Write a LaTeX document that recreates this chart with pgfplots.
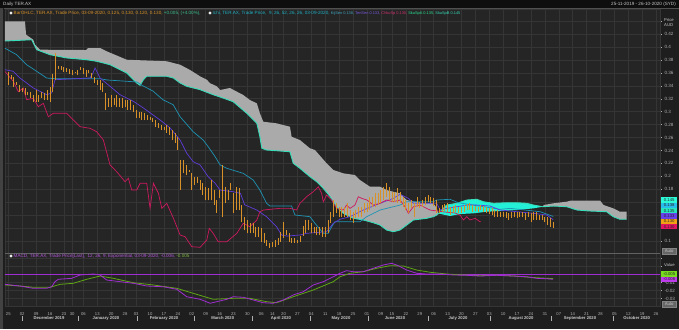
\documentclass[border=0pt]{standalone}
\usepackage{fontspec}
\setmainfont{Liberation Sans}
\setsansfont{Liberation Sans}
\usepackage{pgfplots}
\pgfplotsset{compat=1.18}
\usepackage{pgfplotstable}

\definecolor{bgc}{RGB}{30,30,30}
\definecolor{panel}{RGB}{37,37,37}
\definecolor{gridc}{RGB}{53,53,53}
\definecolor{txt}{RGB}{200,200,200}
\definecolor{txtdim}{RGB}{175,175,175}
\definecolor{ohlc}{RGB}{215,145,40}
\definecolor{kijun}{RGB}{30,148,180}
\definecolor{tenkan}{RGB}{95,60,215}
\definecolor{chikou}{RGB}{205,25,95}
\definecolor{spana}{RGB}{55,220,185}
\definecolor{cloudgray}{RGB}{170,170,170}
\definecolor{cloudcyan}{RGB}{35,240,215}
\definecolor{macdc}{RGB}{160,45,210}
\definecolor{sigc}{RGB}{95,165,20}
\definecolor{legg}{RGB}{60,190,140}
\definecolor{ichic}{RGB}{30,175,195}

\pgfplotstableread{
i h l
0 0.361 0.341
1 0.357 0.350
2 0.354 0.338
3 0.346 0.341
4 0.341 0.330
5 0.337 0.330
6 0.337 0.326
7 0.330 0.326
8 0.330 0.321
9 0.326 0.315
10 0.333 0.315
11 0.326 0.315
12 0.330 0.321
13 0.329 0.318
14 0.333 0.318
15 0.338 0.315
16 0.358 0.330
17 0.391 0.349
18 0.371 0.366
19 0.371 0.364
20 0.369 0.361
21 0.367 0.361
22 0.366 0.358
23 0.364 0.357
24 0.361 0.359
25 0.364 0.357
26 0.369 0.364
27 0.367 0.358
28 0.364 0.354
29 0.364 0.360
30 0.360 0.352
31 0.354 0.344
32 0.349 0.341
33 0.349 0.333
34 0.344 0.330
35 0.329 0.303
36 0.321 0.307
37 0.326 0.307
38 0.321 0.310
39 0.326 0.307
40 0.321 0.307
41 0.321 0.306
42 0.318 0.307
43 0.318 0.303
44 0.318 0.303
45 0.310 0.299
46 0.303 0.290
47 0.299 0.290
48 0.299 0.287
49 0.298 0.287
50 0.295 0.287
51 0.292 0.287
52 0.290 0.284
53 0.287 0.276
54 0.282 0.275
55 0.279 0.272
56 0.276 0.272
57 0.279 0.267
58 0.276 0.264
59 0.272 0.256
60 0.267 0.252
61 0.261 0.241
62 0.225 0.179
63 0.225 0.205
64 0.218 0.202
65 0.210 0.207
66 0.205 0.179
67 0.199 0.187
68 0.199 0.190
69 0.194 0.179
70 0.190 0.171
71 0.184 0.163
72 0.182 0.163
73 0.194 0.163
74 0.179 0.156
75 0.163 0.143
76 0.179 0.167
77 0.218 0.137
78 0.184 0.159
79 0.179 0.163
80 0.190 0.179
81 0.174 0.143
82 0.184 0.148
83 0.182 0.148
84 0.156 0.129
85 0.137 0.117
86 0.133 0.112
87 0.128 0.112
88 0.128 0.112
89 0.122 0.106
90 0.122 0.106
91 0.120 0.099
92 0.112 0.097
93 0.102 0.092
94 0.097 0.089
95 0.099 0.091
96 0.102 0.091
97 0.105 0.094
98 0.114 0.099
99 0.129 0.105
100 0.117 0.109
101 0.112 0.099
102 0.105 0.097
103 0.105 0.097
104 0.102 0.097
105 0.108 0.099
106 0.123 0.108
107 0.133 0.112
108 0.133 0.117
109 0.128 0.112
110 0.122 0.112
111 0.122 0.109
112 0.122 0.109
113 0.122 0.106
114 0.122 0.106
115 0.133 0.112
116 0.145 0.128
117 0.163 0.137
118 0.159 0.143
119 0.153 0.137
120 0.153 0.137
121 0.153 0.137
122 0.159 0.137
123 0.148 0.133
124 0.145 0.128
125 0.148 0.136
126 0.153 0.137
127 0.153 0.137
128 0.159 0.143
129 0.159 0.145
130 0.168 0.148
131 0.168 0.153
132 0.174 0.153
133 0.174 0.156
134 0.179 0.159
135 0.184 0.163
136 0.190 0.168
137 0.184 0.163
138 0.176 0.160
139 0.176 0.160
140 0.182 0.159
141 0.176 0.159
142 0.168 0.153
143 0.163 0.148
144 0.159 0.143
145 0.163 0.151
146 0.159 0.137
147 0.168 0.153
148 0.160 0.151
149 0.163 0.153
150 0.168 0.156
151 0.171 0.160
152 0.168 0.159
153 0.167 0.154
154 0.163 0.143
155 0.151 0.143
156 0.156 0.145
157 0.157 0.146
158 0.159 0.145
159 0.153 0.140
160 0.154 0.143
161 0.156 0.145
162 0.153 0.143
163 0.153 0.143
164 0.156 0.145
165 0.157 0.148
166 0.159 0.148
167 0.156 0.145
168 0.154 0.146
169 0.153 0.145
170 0.156 0.148
171 0.154 0.145
172 0.153 0.143
173 0.151 0.142
174 0.151 0.140
175 0.148 0.137
176 0.148 0.137
177 0.145 0.137
178 0.145 0.137
179 0.145 0.136
180 0.143 0.133
181 0.145 0.136
182 0.145 0.137
183 0.145 0.136
184 0.145 0.137
185 0.145 0.137
186 0.143 0.133
187 0.145 0.137
188 0.143 0.129
189 0.145 0.133
190 0.145 0.133
191 0.140 0.133
192 0.140 0.133
193 0.137 0.129
194 0.137 0.125
195 0.136 0.122
196 0.130 0.120
}\ohlcdata

\pgfplotstableread{
i p
-1.2 0.398
3.0 0.388
6.6 0.3725
10.2 0.3623
13.8 0.3519
16.8 0.3509
33.0 0.3509
35.5 0.3489
46.3 0.3458
48.5 0.3396
52.0 0.3319
55.6 0.3184
59.3 0.3107
61.8 0.2921
66.5 0.2689
70.1 0.2561
71.9 0.2458
74.4 0.2303
76.2 0.2175
78.6 0.2124
84.5 0.2046
88.1 0.1943
90.5 0.1788
92.9 0.1583
94.1 0.1541
101.9 0.1541
103.1 0.1402
108.5 0.1376
110.3 0.1274
113.3 0.1119
115.1 0.1119
116.3 0.1221
117.5 0.1298
126.5 0.1298
128.9 0.1376
133.7 0.1479
140.9 0.1556
143.3 0.1607
152.9 0.1607
154.1 0.1634
158.9 0.1645
161.9 0.1592
176.9 0.1490
180.5 0.1505
191.3 0.1453
196.0 0.138
}\kijundata

\pgfplotstableread{
i p
-1.2 0.3648
1.8 0.3623
4.2 0.3519
9.0 0.3365
12.6 0.3288
13.8 0.3261
15.6 0.3288
16.8 0.3493
29.4 0.3520
30.5 0.3600
31.2 0.3674
33.0 0.3519
36.6 0.3391
40.2 0.3261
45.0 0.3159
48.6 0.3056
54.6 0.2870
58.2 0.2747
61.8 0.2561
64.2 0.2356
66.5 0.2226
69.0 0.2175
71.9 0.1994
74.4 0.1892
76.2 0.1788
80.9 0.1762
83.5 0.1737
85.0 0.1560
89.4 0.1479
92.9 0.1376
96.5 0.1221
98.3 0.1093
100.1 0.1077
104.9 0.1093
107.3 0.1119
114.5 0.1144
116.9 0.1274
119.3 0.1336
122.9 0.1376
127.7 0.1479
133.7 0.1583
138.5 0.1660
140.9 0.1722
143.9 0.1660
145.7 0.1583
154.1 0.1583
155.3 0.1479
157.7 0.1505
161.3 0.1530
165.0 0.1556
168.5 0.1556
173.3 0.1541
176.9 0.1479
188.9 0.1428
193.7 0.1402
196.0 0.133
}\tenkandata

\pgfplotstableread{
i p
-1.2 0.362
1.8 0.3468
3.6 0.3308
5.4 0.3365
6.6 0.3184
9.0 0.3206
10.8 0.3076
12.6 0.3128
14.4 0.2921
16.2 0.2974
21.0 0.2974
25.8 0.2767
29.4 0.2742
31.8 0.2689
34.2 0.2561
36.6 0.2175
39.0 0.2071
42.0 0.1917
43.2 0.1969
44.4 0.1788
46.2 0.1788
47.4 0.1892
49.8 0.1892
51.0 0.1506
52.2 0.1892
54.0 0.1737
55.2 0.1506
57.0 0.1583
59.4 0.1351
61.8 0.1093
63.6 0.1067
66.0 0.0912
69.0 0.0903
71.4 0.1016
72.3 0.1196
73.7 0.1119
75.5 0.0989
78.6 0.0989
82.2 0.1119
84.5 0.1274
86.9 0.1221
89.4 0.1325
90.5 0.1453
91.7 0.1479
97.7 0.1505
101.3 0.1505
103.7 0.1479
104.9 0.1583
107.3 0.1685
109.7 0.1762
111.5 0.1839
112.7 0.1737
113.3 0.1607
114.5 0.1711
116.3 0.1634
118.1 0.1505
120.5 0.1479
121.7 0.1556
122.9 0.1505
124.7 0.1556
125.9 0.1685
127.1 0.1660
129.0 0.1634
131.3 0.1556
133.7 0.1583
136.1 0.1634
138.5 0.1607
140.9 0.1634
142.7 0.1530
143.9 0.1428
145.7 0.1530
148.1 0.1556
151.7 0.1479
157.1 0.1448
160.7 0.1433
162.5 0.1402
163.7 0.1325
164.9 0.1376
166.1 0.1325
167.9 0.1351
169.7 0.1298
170.0 0.130
}\chikoudata

\pgfplotstableread{
i p
-1.2 0.4091
4.2 0.4102
8.4 0.4111
10.2 0.3957
15.0 0.3880
21.0 0.3829
28.2 0.3802
31.8 0.3778
36.6 0.3725
42.6 0.3597
46.2 0.3442
47.4 0.3407
48.6 0.3493
49.8 0.3546
57.0 0.3546
59.4 0.3519
61.8 0.3442
64.2 0.3391
69.0 0.3339
73.7 0.3261
76.2 0.3226
80.9 0.3153
85.8 0.2974
89.4 0.2819
90.5 0.2612
91.2 0.2433
92.9 0.2407
101.3 0.2380
102.5 0.2201
104.9 0.2124
108.5 0.1994
110.9 0.1917
113.3 0.1815
115.8 0.1685
118.1 0.1530
120.5 0.1428
124.1 0.1351
127.7 0.1325
131.3 0.1283
133.7 0.1247
136.1 0.1170
138.5 0.1144
140.9 0.1170
143.3 0.1247
145.7 0.1325
150.5 0.1351
152.9 0.1376
154.1 0.1402
154.7 0.1425
157.7 0.1556
161.3 0.1583
165.0 0.1634
168.5 0.1645
170.9 0.1607
174.5 0.1583
179.3 0.1592
182.9 0.1592
186.5 0.1583
188.9 0.1556
192.2 0.1530
196.1 0.1541
200.9 0.1530
204.6 0.1479
209.2 0.1464
215.2 0.1453
217.6 0.1376
220.0 0.1336
222.4 0.1336
}\spanAdata

% cloud polygons: Senkou span A forward, then Senkou span B backward
\pgfplotstableread{
i p
-1.2 0.4091
4.2 0.4102
8.4 0.4111
10.2 0.3957
15.0 0.3880
21.0 0.3829
28.2 0.3802
31.8 0.3778
36.6 0.3725
42.6 0.3597
46.2 0.3442
47.4 0.3407
48.6 0.3493
49.8 0.3546
57.0 0.3546
59.4 0.3519
61.8 0.3442
64.2 0.3391
69.0 0.3339
73.7 0.3261
76.2 0.3226
80.9 0.3153
85.8 0.2974
89.4 0.2819
90.5 0.2612
91.2 0.2433
92.9 0.2407
101.3 0.2380
102.5 0.2201
104.9 0.2124
108.5 0.1994
110.9 0.1917
113.3 0.1815
115.8 0.1685
118.1 0.1530
120.5 0.1428
124.1 0.1351
127.7 0.1325
131.3 0.1283
133.7 0.1247
136.1 0.1170
138.5 0.1144
140.9 0.1170
143.3 0.1247
145.7 0.1325
150.5 0.1351
152.9 0.1376
154.1 0.1402
154.7 0.1425
154.1 0.1510
152.9 0.1583
148.1 0.1592
143.3 0.1634
140.9 0.1737
138.5 0.1762
136.1 0.1788
133.7 0.1839
130.1 0.1839
126.5 0.1943
124.7 0.2020
120.5 0.2046
116.9 0.2098
114.5 0.2201
110.3 0.2407
108.5 0.2433
104.9 0.2561
101.9 0.2612
101.3 0.2767
96.5 0.2819
91.7 0.2844
90.5 0.2974
89.4 0.3128
86.9 0.3179
84.5 0.3257
79.7 0.3365
76.2 0.3334
75.0 0.3391
72.6 0.3438
71.4 0.3493
69.0 0.3545
65.4 0.3643
61.8 0.3725
57.0 0.3778
44.9 0.3798
42.6 0.3802
35.4 0.3932
33.0 0.3983
28.7 0.3983
28.0 0.3952
11.4 0.3957
9.6 0.4034
9.0 0.4111
6.4 0.4189
6.0 0.4396
-1.2 0.4396
}\cloudone

\pgfplotstableread{
i p
154.7 0.1425
157.7 0.1556
161.3 0.1583
165.0 0.1634
168.5 0.1645
170.9 0.1607
174.5 0.1583
179.3 0.1592
182.9 0.1592
186.5 0.1583
188.9 0.1556
192.2 0.1530
188.9 0.1505
182.9 0.1479
176.9 0.1464
172.1 0.1453
167.3 0.1428
162.5 0.1417
158.9 0.1387
154.7 0.1425
}\cloudtwo

\pgfplotstableread{
i p
192.2 0.1530
196.1 0.1541
200.9 0.1530
204.6 0.1479
209.2 0.1464
215.2 0.1453
217.6 0.1376
220.0 0.1336
222.4 0.1336
222.4 0.1453
220.0 0.1453
217.6 0.1505
214.1 0.1557
212.9 0.1623
202.2 0.1623
200.9 0.1608
196.1 0.1583
192.6 0.1557
192.2 0.1530
}\cloudthree

\pgfplotstableread{
i v
-1.2 -0.0123
4.2 -0.0144
9.0 -0.0173
13.8 -0.0173
15.6 -0.0153
16.8 -0.0090
18.0 -0.0060
22.8 -0.0048
25.8 -0.0006
30.6 0.0006
33.0 -0.0006
35.4 -0.0069
40.2 -0.0090
45.0 -0.0110
49.8 -0.0144
55.8 -0.0153
60.6 -0.0185
64.2 -0.0278
69.0 -0.0310
72.6 -0.0360
75.0 -0.0340
78.6 -0.0310
80.9 -0.0278
84.5 -0.0285
88.1 -0.0319
91.7 -0.0353
95.3 -0.0360
98.9 -0.0319
102.5 -0.0256
106.1 -0.0215
109.7 -0.0131
113.3 -0.0090
116.9 -0.0028
119.3 0.0015
121.7 0.0048
124.1 0.0035
127.7 0.0035
131.3 0.0078
134.9 0.0119
137.9 0.0140
139.7 0.0119
143.3 0.0056
146.9 0.0015
150.5 0.0006
155.3 0.0006
160.1 -0.0006
164.9 -0.0010
169.7 -0.0019
175.7 -0.0010
181.7 -0.0019
186.5 -0.0028
190.1 -0.0048
193.7 -0.0053
196.0 -0.0060
}\macddata

\pgfplotstableread{
i v
-1.2 -0.0131
4.2 -0.0144
9.0 -0.0160
15.0 -0.0160
18.6 -0.0123
23.4 -0.0110
28.2 -0.0060
33.0 -0.0019
37.8 -0.0048
45.0 -0.0103
52.2 -0.0131
60.6 -0.0173
66.5 -0.0235
73.7 -0.0310
80.9 -0.0298
86.9 -0.0298
92.9 -0.0340
96.5 -0.0353
102.5 -0.0278
109.7 -0.0194
116.9 -0.0090
119.3 -0.0028
122.9 0.0015
127.7 0.0035
132.5 0.0078
137.3 0.0110
142.1 0.0106
146.9 0.0056
151.7 0.0028
157.7 0.0006
163.7 -0.0006
169.7 -0.0015
175.7 -0.0010
181.7 -0.0019
187.7 -0.0035
193.7 -0.0048
196.0 -0.0050
}\signaldata

\pgfplotstableread{
i v
-2 0
236 0
}\zerodata

\newcommand{\fs}{\fontsize{4.6}{5.2}\selectfont}
\newcommand{\fsn}{\fontsize{3.9}{4.6}\selectfont}
\newcommand{\fss}{\fontsize{4.2}{4.8}\selectfont}

\pgfplotsset{
  commonx/.style={
    scale only axis, width=655pt,
    xmin=-1.187, xmax=234.42,
    xtick={0,5,10,15,20,23,27,32,37,42,46,51,56,61,66,71,76,81,86,91,95,99,104,109,114,119,124,129,134,138,143,148,153,158,163,168,173,178,183,188,193,198,203,208,213,218,223,228,233},
    axis background/.style={fill=panel},
    axis line style={draw=gridc},
    grid=major, major grid style={draw=gridc, line width=0.4pt},
    xtick style={draw=none},
    ytick pos=right, yticklabel pos=right,
    tick align=outside, major tick length=2pt,
    ytick style={draw=txtdim, line width=0.3pt},
    yticklabel style={font=\fs, text=txtdim, xshift=-1pt},
    scaled x ticks=false, scaled y ticks=false,
    /pgf/number format/assume math mode=true,
  }
}

\begin{document}
\begin{tikzpicture}
\useasboundingbox (0pt,0pt) rectangle (679pt,329pt);
\fill[bgc] (0pt,0pt) rectangle (679pt,329pt);
\fill[black!55!bgc] (0pt,321pt) rectangle (679pt,329pt);
\fill[white!16!bgc] (0pt,0pt) rectangle (3pt,321pt);

% ---------------- main price panel ----------------
\begin{axis}[commonx,
  at={(5pt,76pt)}, anchor=south west, height=244pt,
  ymin=0.0815, ymax=0.4586,
  xticklabels={},
  ytick={0.1,0.12,0.14,0.16,0.18,0.2,0.22,0.24,0.26,0.28,0.3,0.32,0.34,0.36,0.38,0.4,0.42,0.44},
  yticklabels={0.1,,,,0.18,0.2,0.22,0.24,0.26,0.28,0.3,0.32,0.34,0.36,0.38,0.4,0.42,},
]
\addplot[fill=cloudgray, draw=none] table[x=i,y=p]{\cloudone};
\addplot[fill=cloudcyan, draw=none] table[x=i,y=p]{\cloudtwo};
\addplot[fill=cloudgray, draw=none] table[x=i,y=p]{\cloudthree};
\addplot[spana, line width=0.9pt] table[x=i,y=p]{\spanAdata};
\addplot[kijun, line width=0.7pt] table[x=i,y=p]{\kijundata};
\addplot[tenkan, line width=0.7pt] table[x=i,y=p]{\tenkandata};
\addplot[chikou, line width=0.7pt] table[x=i,y=p]{\chikoudata};
\addplot[ohlc, line width=0.85pt, quiver={u=0, v=\thisrow{h}-\thisrow{l}}]
  table[x=i, y=l]{\ohlcdata};
\end{axis}

% ---------------- MACD panel ----------------
\begin{axis}[commonx,
  at={(5pt,23pt)}, anchor=south west, height=53pt,
  ymin=-0.0394, ymax=0.0269,
  xticklabels={25,02,09,16,23,30,06,13,20,28,03,10,17,24,02,09,16,23,30,06,14,20,27,04,11,18,25,01,09,15,22,29,06,13,20,27,03,10,17,24,31,07,14,21,28,05,12,19,26},
  xticklabel style={font=\fss, text=txtdim, yshift=-1.2pt},
  ytick={-0.03,-0.02,-0.01,0.01,0.02},
  yticklabels={-0.03,-0.02,-0.01,,},
]
\addplot[macdc, line width=1.1pt] table[x=i,y=v]{\zerodata};
\addplot[sigc, line width=0.8pt] table[x=i,y=v]{\signaldata};
\addplot[macdc, line width=0.8pt] table[x=i,y=v]{\macddata};
\end{axis}

\begin{scope}[x=1pt,y=1pt]
\draw[white!30!bgc, line width=0.6pt] (5,76) -- (660,76);
\draw[white!22!bgc, line width=0.5pt] (4,320.5) -- (679,320.5);

% titles
\node[anchor=west, font=\fs, text=txt, inner sep=0] at (3,325) {Daily TER.AX};
\node[anchor=east, font=\fs, text=txt, inner sep=0] at (676,325) {25-11-2019 - 26-10-2020 (SYD)};

% legends
\fill[white!85!gray] (11,316) circle (1.7);
\node[anchor=west, font=\fs, inner sep=0] at (13.5,316) {\textcolor{ohlc}{BarOHLC, TER.AX, Trade Price, 03-09-2020, 0.125, 0.130, 0.120, 0.130,} \textcolor{legg}{+0.005, (+4.00\%),}};
\fill[white!85!gray] (210,316) circle (1.7);
\node[anchor=west, font=\fs, inner sep=0] at (212.5,316) {\textcolor{ichic}{Ichi, TER.AX, Trade Price, \ 9, 26, 52, 26, 26, 03-09-2020,} {\fsn\textcolor{kijun!85!white}{KijSen 0.138,} \textcolor{tenkan!85!white}{TenSen 0.133,} \textcolor{chikou!90!white}{ChkuSp 0.130,} \textcolor{spana!80!green}{SkuSpA 0.135,} \textcolor{spana}{SkuSpB 0.145}}};
\fill[white!85!gray] (11,73) circle (1.7);
\node[anchor=west, font=\fs, inner sep=0] at (13.5,73) {\textcolor{macdc!80!white}{MACD, TER.AX, Trade Price[Last], \ 12, 26, 9, Exponential, 03-09-2020, -0.006,} \textcolor{sigc!80!white}{-0.005}};

% right axis titles
\node[anchor=west, font=\fss, text=txt, inner sep=0] at (664,309) {Price};
\node[anchor=west, font=\fss, text=txt, inner sep=0] at (664,303.5) {AUD};
\node[anchor=west, font=\fss, text=txt, inner sep=0] at (664,64) {Value};

% value boxes main
\tikzset{vbox/.style={anchor=west, minimum width=16pt, minimum height=5.3pt, inner sep=0, font=\fss, text=black!85}}
\node[vbox, fill={rgb,255:red,45;green,250;blue,215}] at (661,129) {0.145};
\node[vbox, fill={rgb,255:red,40;green,190;blue,235}] at (661,123.7) {0.138};
\node[vbox, fill={rgb,255:red,40;green,230;blue,190}] at (661,118.4) {0.135};
\node[vbox, fill={rgb,255:red,105;green,65;blue,235}] at (661,113) {0.133};
\node[vbox, fill={rgb,255:red,240;green,160;blue,20}] at (661,107.7) {0.130};
\node[vbox, fill={rgb,255:red,225;green,20;blue,100}] at (661,102.3) {0.130};
% value boxes MACD
\node[vbox, fill={rgb,255:red,120;green,220;blue,30}] at (661,55) {-0.005};
\node[vbox, fill={rgb,255:red,190;green,60;blue,235}] at (661,49.7) {-0.006};

% auto buttons
\node[anchor=west, fill=white!32!bgc, draw=white!45!bgc, line width=0.3pt, minimum width=14pt, minimum height=6pt, inner sep=0, font=\fss, text=txt] at (662,78) {Auto};
\node[anchor=west, fill=white!32!bgc, draw=white!45!bgc, line width=0.3pt, minimum width=14pt, minimum height=6pt, inner sep=0, font=\fss, text=txt] at (662,25) {Auto};

% month labels
\tikzset{mlab/.style={font=\bfseries\fss, text=txt, inner sep=0}}
\node[mlab] at (49,10.7) {December 2019};
\node[mlab] at (106,10.7) {January 2020};
\node[mlab] at (164,10.7) {February 2020};
\node[mlab] at (222.7,10.7) {March 2020};
\node[mlab] at (281,10.7) {April 2020};
\node[mlab] at (341,10.7) {May 2020};
\node[mlab] at (395,10.7) {June 2020};
\node[mlab] at (458,10.7) {July 2020};
\node[mlab] at (521,10.7) {August 2020};
\node[mlab] at (580,10.7) {September 2020};
\node[mlab] at (636.7,10.7) {October 2020};
\foreach \xx in {21.7,77.7,136.7,194,251.7,310,368.3,427.7,490,551,612.7}
  \draw[txtdim, line width=0.4pt] (\xx,8) -- (\xx,13.5);
\end{scope}
\end{tikzpicture}
\end{document}
